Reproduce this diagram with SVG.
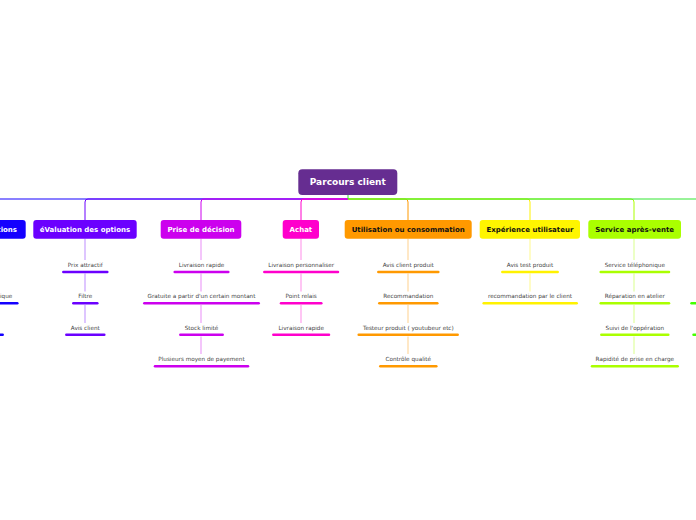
<svg xmlns="http://www.w3.org/2000/svg" width="696" height="520" viewBox="0 0 696 520">
<style>
  .conn path, .conn line { fill: none; stroke-width: 1; }
  .hd { font-family: "DejaVu Sans", Verdana, sans-serif; font-weight: bold; font-size: 7px; text-anchor: middle; }
  .root { font-family: "DejaVu Sans", Verdana, sans-serif; font-weight: bold; font-size: 9px; text-anchor: middle; fill: #ffffff; }
  .ch { font-family: "DejaVu Sans", Verdana, sans-serif; font-size: 5.7px; text-anchor: middle; fill: #444444; }
  .bar { stroke-width: 2.5; stroke-linecap: round; fill: none; }
  .sub { stroke-width: 1; fill: none; stroke-opacity: 0.45; }
  .w { fill: #ffffff; }
  .k { fill: #111111; }
</style>
<rect width="696" height="520" fill="#ffffff"/>

<g id="connectors" class="conn">
  <!-- left side: outermost first -->
  <path d="M348 199 H-37 Q-40 199 -40 202 V220" stroke="#1400FF"/>
  <path d="M348 199 H88 Q85 199 85 202 V220" stroke="#6B00FF"/>
  <path d="M348 199 H204 Q201 199 201 202 V220" stroke="#CC00EE"/>
  <path d="M348 199 H304 Q301 199 301 202 V220" stroke="#FF00CC"/>
  <!-- right side -->
  <path d="M348 199 H405 Q408 199 408 202 V220" stroke="#FF9900"/>
  <path d="M348 199 H527 Q530 199 530 202 V220" stroke="#FFF200"/>
  <path d="M348 199 H631 Q634 199 634 202 V220" stroke="#AAFF00"/>
  <path d="M348 199 H737 Q740 199 740 202 V220" stroke="#33E633"/>
  <line x1="348" y1="195" x2="348" y2="199" stroke="#33E633"/>

  <!-- sub verticals -->
  <path class="sub" stroke="#6B00FF" d="M85 238.7 V260 M85 273.5 V291.5 M85 305 V323"/>
  <path class="sub" stroke="#CC00EE" d="M201 238.7 V260 M201 273.5 V291.5 M201 305 V323 M201 336.5 V354"/>
  <path class="sub" stroke="#FF00CC" d="M301 238.7 V260 M301 273.5 V291.5 M301 305 V323"/>
  <path class="sub" stroke="#FF9900" d="M408 238.7 V260 M408 273.5 V291.5 M408 305 V323 M408 336.5 V354"/>
  <path class="sub" stroke="#FFF200" d="M530 238.7 V260 M530 273.5 V291.5"/>
  <path class="sub" stroke="#AAFF00" d="M634 238.7 V260 M634 273.5 V291.5 M634 305 V323 M634 336.5 V354"/>
</g>

<g id="root">
  <rect x="298.3" y="169.3" width="99" height="25.7" rx="4" fill="#662D91"/>
  <text class="root" x="347.8" y="185.3">Parcours client</text>
</g>

<g id="recherche">
  <rect x="-80" y="220" width="105.7" height="18.7" rx="3" fill="#1400FF"/>
  <text class="hd w" x="17" y="232.2" text-anchor="end" style="text-anchor:end">Recherche d'informations</text>
  <line class="bar" x1="-38.6" y1="303.3" x2="17.3" y2="303.3" stroke="#1400FF"/>
  <text class="ch" x="12.3" y="298.3" style="text-anchor:end">Fiche technique</text>
  <line class="bar" x1="-40" y1="334.7" x2="2.7" y2="334.7" stroke="#1400FF"/>
</g>

<g id="evaluation">
  <rect x="33.3" y="220" width="103.4" height="18.7" rx="3" fill="#6B00FF"/>
  <text class="hd w" x="85" y="232.2">éValuation des options</text>
  <text class="ch" x="85.3" y="267">Prix attractif</text>
  <line class="bar" x1="63.3" y1="272" x2="107.3" y2="272" stroke="#6B00FF"/>
  <text class="ch" x="85.3" y="298.3">Filtre</text>
  <line class="bar" x1="73.3" y1="303.3" x2="97.3" y2="303.3" stroke="#6B00FF"/>
  <text class="ch" x="85.3" y="329.7">Avis client</text>
  <line class="bar" x1="66.3" y1="334.7" x2="104.3" y2="334.7" stroke="#6B00FF"/>
</g>

<g id="decision">
  <rect x="160.7" y="220" width="80.6" height="18.7" rx="3" fill="#CC00EE"/>
  <text class="hd w" x="201" y="232.2">Prise de décision</text>
  <text class="ch" x="201.5" y="267">Livraison rapide</text>
  <line class="bar" x1="174.7" y1="272" x2="228.3" y2="272" stroke="#CC00EE"/>
  <text class="ch" x="201.5" y="298.3">Gratuite a partir d'un certain montant</text>
  <line class="bar" x1="144.3" y1="303.3" x2="258.7" y2="303.3" stroke="#CC00EE"/>
  <text class="ch" x="201.5" y="329.7">Stock limité</text>
  <line class="bar" x1="180.3" y1="334.7" x2="222.7" y2="334.7" stroke="#CC00EE"/>
  <text class="ch" x="201.5" y="361.3">Plusieurs moyen de payement</text>
  <line class="bar" x1="155" y1="366.3" x2="248" y2="366.3" stroke="#CC00EE"/>
</g>

<g id="achat">
  <rect x="282.7" y="220" width="36.3" height="18.7" rx="3" fill="#FF00CC"/>
  <text class="hd w" x="300.9" y="232.2">Achat</text>
  <text class="ch" x="301.2" y="267">Livraison personnaliser</text>
  <line class="bar" x1="264.3" y1="272" x2="338" y2="272" stroke="#FF00CC"/>
  <text class="ch" x="301.2" y="298.3">Point relais</text>
  <line class="bar" x1="281" y1="303.3" x2="321.3" y2="303.3" stroke="#FF00CC"/>
  <text class="ch" x="301.2" y="329.7">Livraison rapide</text>
  <line class="bar" x1="273.3" y1="334.7" x2="329" y2="334.7" stroke="#FF00CC"/>
</g>

<g id="utilisation">
  <rect x="344.7" y="220" width="127" height="18.7" rx="3" fill="#FF9900"/>
  <text class="hd k" x="408.2" y="232.2">Utilisation ou consommation</text>
  <text class="ch" x="408.3" y="267">Avis client produit</text>
  <line class="bar" x1="378.3" y1="272" x2="438.3" y2="272" stroke="#FF9900"/>
  <text class="ch" x="408.3" y="298.3">Recommandation</text>
  <line class="bar" x1="379.3" y1="303.3" x2="437.3" y2="303.3" stroke="#FF9900"/>
  <text class="ch" x="408.3" y="329.7">Testeur produit ( youtubeur etc)</text>
  <line class="bar" x1="358.7" y1="334.7" x2="457.7" y2="334.7" stroke="#FF9900"/>
  <text class="ch" x="408.3" y="361.3">Contrôle qualité</text>
  <line class="bar" x1="380.3" y1="366.3" x2="436.3" y2="366.3" stroke="#FF9900"/>
</g>

<g id="experience">
  <rect x="479.7" y="220" width="100.3" height="18.7" rx="3" fill="#FFF500"/>
  <text class="hd k" x="529.9" y="232.2">Expérience utilisateur</text>
  <text class="ch" x="530" y="267">Avis test produit</text>
  <line class="bar" x1="502.3" y1="272" x2="557.7" y2="272" stroke="#FFF200"/>
  <text class="ch" x="530" y="298.3">recommandation par le client</text>
  <line class="bar" x1="483.7" y1="303.3" x2="576.7" y2="303.3" stroke="#FFF200"/>
</g>

<g id="sav">
  <rect x="588.3" y="220" width="92.7" height="18.7" rx="3" fill="#AAFF00"/>
  <text class="hd k" x="634.6" y="232.2">Service après-vente</text>
  <text class="ch" x="634.8" y="267">Service téléphonique</text>
  <line class="bar" x1="600.7" y1="272" x2="669" y2="272" stroke="#AAFF00"/>
  <text class="ch" x="634.8" y="298.3">Réparation en atelier</text>
  <line class="bar" x1="600.7" y1="303.3" x2="669" y2="303.3" stroke="#AAFF00"/>
  <text class="ch" x="634.8" y="329.7">Suivi de l'oppération</text>
  <line class="bar" x1="601.3" y1="334.7" x2="668.3" y2="334.7" stroke="#AAFF00"/>
  <text class="ch" x="634.8" y="361.3">Rapidité de prise en charge</text>
  <line class="bar" x1="592" y1="366.3" x2="677.7" y2="366.3" stroke="#AAFF00"/>
</g>

<g id="fidelisation">
  <line class="bar" x1="691.5" y1="303.3" x2="760" y2="303.3" stroke="#44FF00"/>
  <line class="bar" x1="693.5" y1="334.7" x2="760" y2="334.7" stroke="#44FF00"/>
</g>
</svg>
